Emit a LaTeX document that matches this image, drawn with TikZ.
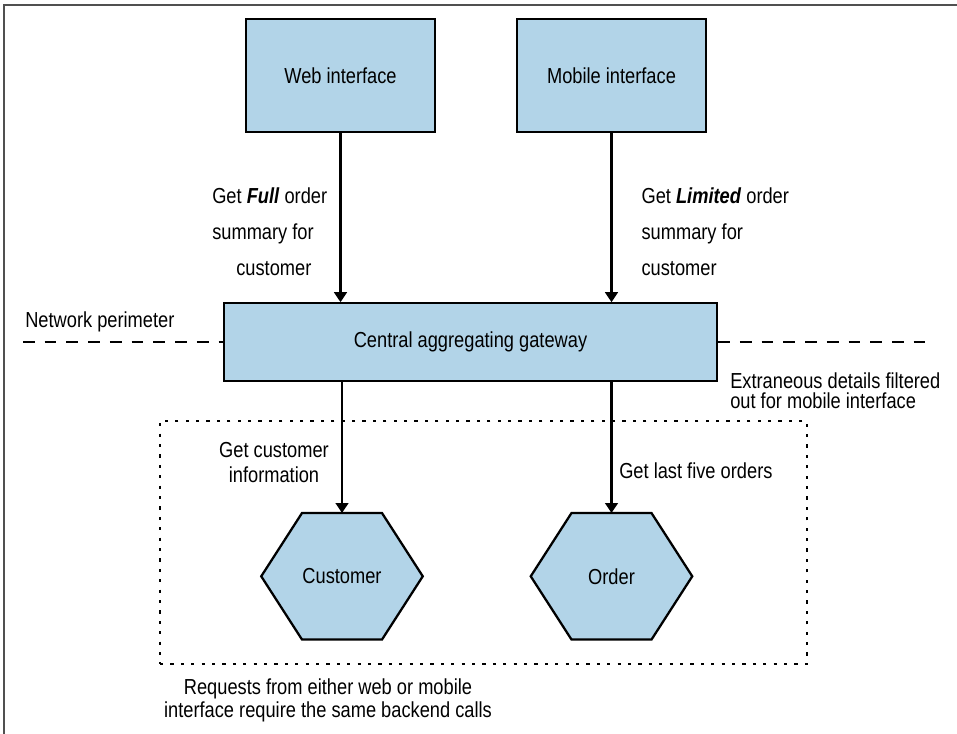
\documentclass[tikz,border=0pt]{standalone}
\usepackage{fontspec}
\setmainfont{Liberation Sans}[FakeStretch=0.84]
\usetikzlibrary{positioning,arrows.meta,backgrounds}
\definecolor{boxblue}{RGB}{178,212,232}
\definecolor{framegray}{RGB}{80,80,80}
\newcommand{\mainfs}{\fontsize{16.3}{20.3}\selectfont}

\begin{document}
\begin{tikzpicture}[
  x=0.75pt, y=-0.75pt,
  box/.style={
    draw=black, fill=boxblue, line width=1.7pt, inner sep=0pt,
    align=center, font=\mainfs
  },
  hexbox/.style={
    inner sep=0pt, minimum width=120.75pt, minimum height=94.5pt,
    font=\mainfs
  },
  hexa/.style={draw=black, fill=boxblue, line width=1.7pt, line join=miter},
  lbl/.style={inner sep=0pt, font=\mainfs},
  arr/.style={-{Triangle[length=7.5pt, width=9.5pt]}, line width=1.7pt},
  perim/.style={line width=1.7pt, dash pattern=on 8.8pt off 7.5pt},
  dotbox/.style={draw, line width=1.6pt, dash pattern=on 2.4pt off 5.4pt,
    inner sep=0pt, minimum width=485pt, minimum height=182.5pt}
]
\useasboundingbox (0,0) rectangle (957,734);

%% -- outer frame --
\draw[framegray, line width=1pt] (4,734) -- (4,5) -- (957,5);

%% -- BACKEND AREA --
\node[dotbox] (backend) at (483.4,542.4) {};

%% -- CLIENTS --
\node[box, minimum width=141.75pt, minimum height=84.75pt] (web) at (340.5,75.5)
  {Web interface};
\node[box, minimum width=141.75pt, minimum height=84.75pt] (mobile) at (611.5,75.5)
  {Mobile interface};

%% -- GATEWAY --
\node[box, minimum width=369.75pt, minimum height=58pt] (gw) at (470.5,342)
  {Central aggregating gateway};

%% -- SERVICES --
\node[hexbox] (cust) at (342,576.3) {Customer};
\node[hexbox] (ord) at (611.5,576.3) {Order};
\begin{pgfonlayer}{background}
\foreach \h in {cust,ord}
  \draw[hexa] (\h.west) -- ([xshift=-30pt]\h.north) -- ([xshift=30pt]\h.north)
    -- (\h.east) -- ([xshift=30pt]\h.south) -- ([xshift=-30pt]\h.south) -- cycle;
\end{pgfonlayer}

%% -- NETWORK PERIMETER --
\coordinate (perimL) at (23,342);
\coordinate (perimR) at (935,342);
\draw[perim] (perimL) -- (gw.west);
\draw[perim] (gw.east) -- (perimR);

%% -- ARROWS --
\draw[arr] (web.south) -- (web.south |- gw.north);
\draw[arr] (mobile.south) -- (mobile.south |- gw.north);
\draw[arr] (cust.north |- gw.south) -- (cust.north);
\draw[arr] (ord.north |- gw.south) -- (ord.north);

%% -- LABELS --
\node[lbl, anchor=north west, align=left, font=\fontsize{16.3}{27}\selectfont]
  (fullLbl) at (212,187)
  {Get \textbf{\textit{Full}} order\\summary for\\\hspace*{18pt}customer};
\node[lbl, anchor=north west, align=left, font=\fontsize{16.3}{27}\selectfont]
  (limLbl) at (641.3,187)
  {Get \textbf{\textit{Limited}} order\\summary for\\customer};
\node[lbl, anchor=north west] (netLbl) at (25,311) {Network perimeter};
\node[lbl, anchor=north west, align=left, font=\fontsize{16.3}{15.2}\selectfont]
  (extraLbl) at (730,372.5)
  {Extraneous details filtered\\out for mobile interface};
\node[lbl, anchor=north, align=center, font=\fontsize{16.3}{18.75}\selectfont]
  (custLbl) at (274,442) {Get customer\\information};
\node[lbl, anchor=north west] (ordLbl) at (619,462.5) {Get last five orders};
\node[lbl, anchor=north, align=center, font=\fontsize{16.3}{17}\selectfont]
  (reqLbl) at (328,678.5)
  {Requests from either web or mobile\\interface require the same backend calls};

\end{tikzpicture}
\end{document}
